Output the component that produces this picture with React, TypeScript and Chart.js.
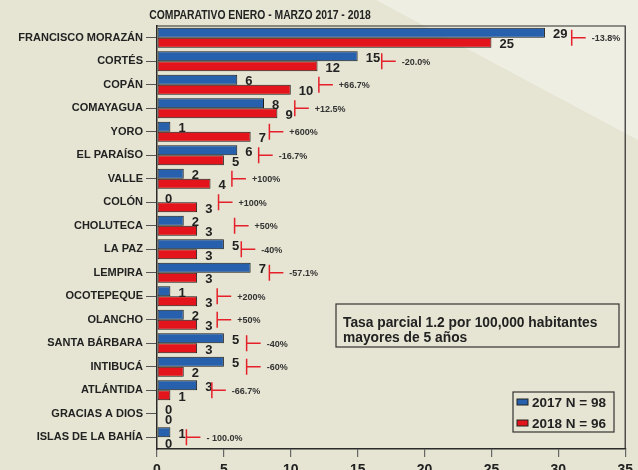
import React, { useEffect, useRef } from "react";
import { Chart, registerables } from "chart.js";

Chart.register(...registerables);

const categories = [
  "FRANCISCO MORAZÁN", "CORTÉS", "COPÁN", "COMAYAGUA", "YORO", "EL PARAÍSO",
  "VALLE", "COLÓN", "CHOLUTECA", "LA PAZ", "LEMPIRA", "OCOTEPEQUE",
  "OLANCHO", "SANTA BÁRBARA", "INTIBUCÁ", "ATLÁNTIDA", "GRACIAS A DIOS", "ISLAS DE LA BAHÍA",
];
const values2017 = [29, 15, 6, 8, 1, 6, 2, 0, 2, 5, 7, 1, 2, 5, 5, 3, 0, 1];
const values2018 = [25, 12, 10, 9, 7, 5, 4, 3, 3, 3, 3, 3, 3, 3, 2, 1, 0, 0];
const changeLabels = [
  "-13.8%", "-20.0%", "+66.7%", "+12.5%", "+600%", "-16.7%", "+100%", "+100%",
  "+50%", "-40%", "-57.1%", "+200%", "+50%", "-40%", "-60%", "-66.7%", "", "- 100.0%",
];
// x position (axis units) of each red change marker
const changeMarkerAt = [31, 16.8, 12.1, 10.3, 8.4, 7.6, 5.6, 4.6, 5.8, 6.3, 8.4, 4.5, 4.5, 6.7, 6.7, 4.1, null, 2.2];
const legendLabels = ["2017 N = 98", "2018 N = 96"];
const titleText = "COMPARATIVO ENERO - MARZO 2017 - 2018";
const noteLines = ["Tasa parcial 1.2 por 100,000 habitantes", "mayores de 5 años"];
const xTicks = { min: 0, max: 35, step: 5 };

const FONT = '"Liberation Sans", Arial, sans-serif';
const BLUE = "#2760ad";
const RED = "#e3141b";
const INK = "#222222";

const decorPlugin = {
  id: "decor",
  beforeDraw(chart: any) {
    const { ctx, width, height } = chart;
    ctx.save();
    ctx.fillStyle = "#e6e4d2";
    ctx.fillRect(0, 0, width, height);
    ctx.fillStyle = "#efeee3";
    ctx.beginPath();
    ctx.moveTo(376, 0);
    ctx.lineTo(width, 0);
    ctx.lineTo(width, 140);
    ctx.closePath();
    ctx.fill();
    ctx.restore();
  },
  afterDatasetsDraw(chart: any) {
    const { ctx, chartArea } = chart;
    const xs = chart.scales.x;
    const ys = chart.scales.y;
    ctx.save();
    // frame
    ctx.strokeStyle = "#2a2a2a";
    ctx.lineWidth = 1.2;
    ctx.beginPath();
    ctx.moveTo(chartArea.left, chartArea.top);
    ctx.lineTo(chartArea.right, chartArea.top);
    ctx.lineTo(chartArea.right, chartArea.bottom);
    ctx.stroke();

    // value labels
    ctx.fillStyle = INK;
    ctx.font = `bold 13px ${FONT}`;
    ctx.textAlign = "left";
    ctx.textBaseline = "middle";
    chart.data.datasets.forEach((ds: any, di: number) => {
      const meta = chart.getDatasetMeta(di);
      meta.data.forEach((bar: any, i: number) => {
        ctx.fillText(String(ds.data[i]), bar.x + 8, bar.y + 2);
      });
    });

    // change markers
    categories.forEach((_c, i) => {
      const at = changeMarkerAt[i];
      if (at == null) return;
      const px = xs.getPixelForValue(at);
      const py = ys.getPixelForValue(i);
      ctx.strokeStyle = "#e5202a";
      ctx.lineWidth = 1.5;
      ctx.beginPath();
      ctx.moveTo(px, py - 8);
      ctx.lineTo(px, py + 8);
      ctx.moveTo(px, py);
      ctx.lineTo(px + 14, py);
      ctx.stroke();
      ctx.fillStyle = "#333";
      ctx.font = `bold 9px ${FONT}`;
      ctx.fillText(changeLabels[i], px + 20, py + 1);
    });

    // title (condensed)
    ctx.save();
    ctx.fillStyle = INK;
    ctx.font = `bold 12.5px ${FONT}`;
    ctx.textAlign = "center";
    ctx.translate(260, 15.5);
    ctx.scale(0.83, 1);
    ctx.fillText(titleText, 0, 0);
    ctx.restore();

    // note box
    ctx.strokeStyle = "#333";
    ctx.lineWidth = 1.2;
    ctx.strokeRect(336, 304, 283, 43);
    ctx.fillStyle = INK;
    ctx.font = `bold 13.8px ${FONT}`;
    ctx.textAlign = "left";
    ctx.textBaseline = "alphabetic";
    ctx.fillText(noteLines[0], 343, 326.5);
    ctx.fillText(noteLines[1], 343, 342);

    // legend
    ctx.strokeRect(513, 392, 101, 40);
    const colors = [BLUE, RED];
    legendLabels.forEach((t, k) => {
      const cy = 402 + k * 21;
      ctx.fillStyle = colors[k];
      ctx.fillRect(517, cy - 3, 11, 6);
      ctx.strokeStyle = "#222";
      ctx.lineWidth = 1;
      ctx.strokeRect(517, cy - 3, 11, 6);
      ctx.fillStyle = INK;
      ctx.font = `bold 13.5px ${FONT}`;
      ctx.textBaseline = "middle";
      ctx.fillText(t, 532, cy + 1);
    });
    ctx.restore();
  },
};

export default function App() {
  const ref = useRef<HTMLCanvasElement | null>(null);
  useEffect(() => {
    document.body.style.margin = "0";
    const canvas = ref.current!;
    const chart = new Chart(canvas, {
      type: "bar",
      data: {
        labels: categories,
        datasets: [
          {
            label: legendLabels[0],
            data: values2017,
            backgroundColor: BLUE,
            borderColor: "#1c1c1c",
            borderWidth: 1,
            borderSkipped: false,
            categoryPercentage: 0.86,
            barPercentage: 1.0,
          },
          {
            label: legendLabels[1],
            data: values2018,
            backgroundColor: RED,
            borderColor: "#1c1c1c",
            borderWidth: 1,
            borderSkipped: false,
            categoryPercentage: 0.86,
            barPercentage: 1.0,
          },
        ],
      },
      options: {
        indexAxis: "y",
        responsive: false,
        animation: false,
        devicePixelRatio: 1,
        layout: { padding: { top: 26, right: 10, left: 0, bottom: 0 } },
        plugins: { legend: { display: false }, tooltip: { enabled: false }, title: { display: false } },
        scales: {
          x: {
            min: xTicks.min,
            max: xTicks.max,
            ticks: {
              stepSize: xTicks.step,
              color: INK,
              font: { family: FONT, size: 14, weight: "bold" },
              padding: 5,
              maxRotation: 0,
            },
            grid: { display: true, drawOnChartArea: false, drawTicks: true, tickLength: 8, color: "#666", lineWidth: 1.2 },
            border: { display: true, color: "#2a2a2a", width: 1.5 },
            afterFit: (s: any) => { s.height = 21; },
          },
          y: {
            ticks: {
              color: INK,
              font: { family: FONT, size: 11, weight: "bold" },
              padding: 3,
              autoSkip: false,
            },
            grid: { display: true, offset: false, drawOnChartArea: false, drawTicks: true, tickLength: 11, color: "#555", lineWidth: 1 },
            border: { display: true, color: "#2a2a2a", width: 1.5 },
            afterFit: (s: any) => { s.width = 157; },
          },
        },
      },
      plugins: [decorPlugin],
    } as any);
    return () => chart.destroy();
  }, []);
  return <canvas ref={ref} width={638} height={470} style={{ display: "block", width: 638, height: 470 }} />;
}
